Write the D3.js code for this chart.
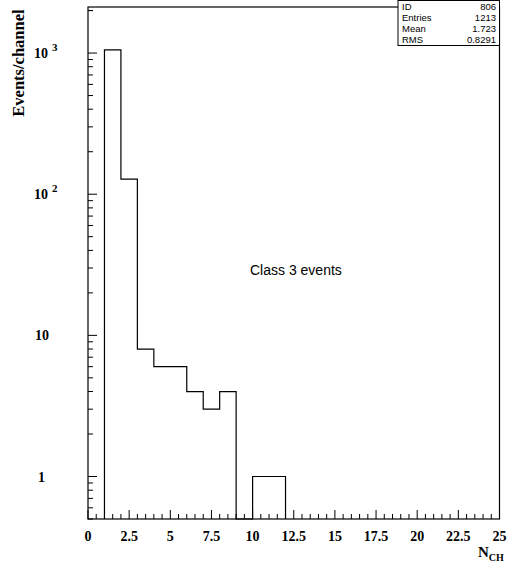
<!DOCTYPE html>
<html>
<head>
<meta charset="utf-8">
<title>N_CH histogram</title>
<style>
  body { margin: 0; background: #fff; }
  svg text { fill: #000; }
  .tick-lbl { font-family: "Liberation Serif", "Times New Roman", serif; font-weight: bold; font-size: 14px; }
  .stats { font-family: "Liberation Sans", Arial, sans-serif; font-size: 9.5px; }
</style>
</head>
<body>
<div id="container"></div>
<script src="https://d3js.org/d3.v7.min.js"></script>
<script>
// histogram contents: unit-wide bins starting at N=1
var binStart = 1
var counts = [1052, 128, 8, 6, 6, 4, 3, 4, 0, 1, 1]
var xTicks = [0, 2.5, 5, 7.5, 10, 12.5, 15, 17.5, 20, 22.5, 25]
var xTickLabels = ['0', '2.5', '5', '7.5', '10', '12.5', '15', '17.5', '20', '22.5', '25']
var yDecades = [1, 10, 100, 1000]
var statNames = ['ID', 'Entries', 'Mean', 'RMS']
var statValues = ['806', '1213', '1.723', '0.8291']
var title = 'Class 3 events'

var width = 509, height = 573
var padL = 88, padR = 499.5, padT = 7, padB = 519

var svg = d3.select('#container').append('svg')
    .attr('width', width).attr('height', height)

var x = d3.scaleLinear().domain([0, 25]).range([padL, padR])
var y = d3.scaleLog().domain([0.5, 2120]).range([padB, padT])

// frame
svg.append('rect')
    .attr('x', padL).attr('y', padT)
    .attr('width', padR - padL).attr('height', padB - padT)
    .attr('fill', 'none').attr('stroke', '#000').attr('stroke-width', 1.2)

// x ticks (major 2.5, minor 0.5), pointing inward
var xMinor = d3.range(0, 25.01, 0.5)
svg.append('g').selectAll('line')
    .data(xMinor)
    .enter().append('line')
    .attr('x1', function(d){ return x(d) }).attr('x2', function(d){ return x(d) })
    .attr('y1', padB)
    .attr('y2', function(d){ return Math.abs(d / 2.5 - Math.round(d / 2.5)) < 1e-6 ? padB - 9 : padB - 5 })
    .attr('stroke', '#000').attr('stroke-width', 1)

svg.append('g').selectAll('text')
    .data(xTicks)
    .enter().append('text')
    .attr('class', 'tick-lbl')
    .attr('x', function(d){ return x(d) })
    .attr('y', 541)
    .attr('text-anchor', 'middle')
    .text(function(d, i){ return xTickLabels[i] })

// y ticks (decades long, 2..9 short), pointing inward
var yMinor = []
yDecades.forEach(function(dec){
    for (var k = 1; k <= 9; k++) {
        var v = dec * k
        if (v >= 0.5 && v <= 2120) yMinor.push(v)
    }
})
yMinor.push(0.5, 0.6, 0.7, 0.8, 0.9, 2000)
svg.append('g').selectAll('line')
    .data(yMinor)
    .enter().append('line')
    .attr('x1', padL)
    .attr('x2', function(d){ return yDecades.indexOf(d) >= 0 ? padL + 9 : padL + 5 })
    .attr('y1', function(d){ return y(d) }).attr('y2', function(d){ return y(d) })
    .attr('stroke', '#000').attr('stroke-width', 1)

// y tick labels: 1, 10, 10^2, 10^3
var yl = svg.append('g')
yDecades.forEach(function(d){
    var p = Math.round(Math.log10(d))
    var t = yl.append('text').attr('class', 'tick-lbl')
        .attr('y', y(d) + 5)
    if (p === 0) {
        t.attr('x', 45).attr('text-anchor', 'end').text('1')
    } else if (p === 1) {
        t.attr('x', 49).attr('text-anchor', 'end').text('10')
    } else {
        t.attr('x', 34).text('10')
        yl.append('text').attr('class', 'tick-lbl')
            .attr('x', 52).attr('y', y(d) - 2)
            .style('font-size', '11px')
            .text(p)
    }
})

// histogram outline
var pts = [[binStart, 0.5]]
counts.forEach(function(c, i){
    var v = c > 0 ? c : 0.5
    pts.push([binStart + i, v])
    pts.push([binStart + i + 1, v])
})
pts.push([binStart + counts.length, 0.5])
var line = d3.line()
    .x(function(d){ return x(d[0]) })
    .y(function(d){ return y(d[1]) })
svg.append('path')
    .attr('d', line(pts))
    .attr('fill', 'none').attr('stroke', '#000').attr('stroke-width', 1.2)

// title text inside the pad
svg.append('text')
    .attr('x', 250).attr('y', 275)
    .style('font-family', '"Liberation Sans", Arial, sans-serif')
    .style('font-size', '14px')
    .text(title)

// axis titles
svg.append('text')
    .attr('transform', 'translate(24,63) rotate(-90)')
    .attr('text-anchor', 'middle')
    .attr('class', 'tick-lbl')
    .style('font-size', '16.5px')
    .text('Events/channel')

var nl = svg.append('text').attr('class', 'tick-lbl')
    .attr('x', 478).attr('y', 557)
    .style('font-size', '15px')
nl.append('tspan').text('N')
nl.append('tspan').attr('dy', 4).style('font-size', '10px').text('CH')

// stats box
var sb = svg.append('g')
sb.append('rect')
    .attr('x', 398).attr('y', 0.5).attr('width', 101.5).attr('height', 45)
    .attr('fill', '#fff').attr('stroke', '#000').attr('stroke-width', 1)
statNames.forEach(function(n, i){
    sb.append('text').attr('class', 'stats')
        .attr('x', 402).attr('y', 9.5 + i * 11).text(n)
    sb.append('text').attr('class', 'stats')
        .attr('x', 496).attr('y', 9.5 + i * 11).attr('text-anchor', 'end').text(statValues[i])
})
</script>
</body>
</html>
